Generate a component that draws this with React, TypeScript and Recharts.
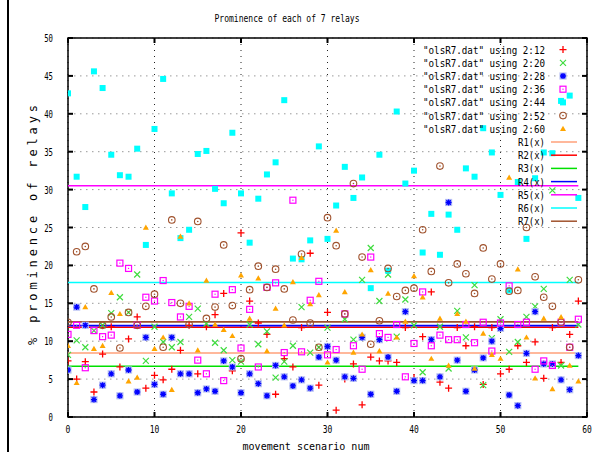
import React from 'react';
import {
  ScatterChart,
  Scatter,
  XAxis,
  YAxis,
  CartesianGrid,
  ReferenceLine,
  ReferenceArea,
  Legend,
} from 'recharts';

const W = 595;
const H = 452;
// left/bottom margins plus a 1px axis band put the plot frame at x 68..587, y 38..417
const MARGIN = { top: 38, right: 8, bottom: 34, left: 67 };
const PLOT_TOP = MARGIN.top;
const PLOT_RIGHT = W - MARGIN.right;

// movement scenario numbers (x)
const scenarioNum = [
  0, 1, 2, 3, 4, 5, 6, 7, 8, 9, 10, 11, 12, 13, 14, 15, 16, 17, 18, 19,
  20, 21, 22, 23, 24, 25, 26, 27, 28, 29, 30, 31, 32, 33, 34, 35, 36, 37, 38, 39,
  40, 41, 42, 43, 44, 45, 46, 47, 48, 49, 50, 51, 52, 53, 54, 55, 56, 57, 58, 59,
];

// % prominence per relay column of olsR7.dat
const col12 = [
  7.4, 5.0, 7.3, 3.3, 8.3, 11.9, 6.6, 10.3, 13.2, 3.8,
  5.5, 4.9, 6.3, 8.8, 12.1, 5.7, 11.9, 13.5, 16.3, 6.1,
  24.3, 15.3, 12.4, 10.9, 3.0, 7.7, 6.6, 11.8, 21.6, 4.2,
  13.8, 0.9, 5.0, 7.0, 1.6, 7.9, 7.4, 7.4, 7.2, 11.8,
  5.2, 10.6, 16.5, 4.6, 3.8, 11.8, 9.4, 11.9, 4.3, 11.8,
  5.7, 6.3, 9.4, 7.2, 9.9, 5.1, 11.8, 7.2, 10.9, 15.3,
];
const col20 = [
  8.2, 10.1, 9.2, 11.4, 12.1, 13.7, 15.8, 13.8, 18.8, 7.4,
  11.9, 9.9, 9.2, 9.9, 13.2, 14.3, 12.3, 9.8, 8.8, 7.5,
  7.3, 12.2, 9.6, 11.3, 5.2, 7.3, 9.4, 14.5, 8.5, 9.2,
  11.8, 7.5, 12.9, 10.2, 18.1, 22.3, 15.3, 18.8, 10.6, 15.5,
  12.1, 5.9, 10.2, 11.9, 6.4, 14.0, 10.5, 17.4, 4.2, 10.4,
  12.9, 8.6, 9.9, 13.2, 14.6, 16.9, 29.9, 6.8, 18.1, 12.2,
];
const col28 = [
  6.2, 14.5, 12.1, 2.3, 4.2, 5.7, 2.8, 6.2, 3.3, 10.5,
  4.3, 3.0, 10.5, 5.7, 5.7, 3.2, 3.7, 3.4, 7.4, 6.6,
  3.2, 5.7, 4.4, 2.8, 6.8, 5.3, 4.1, 4.9, 3.8, 7.9,
  9.3, 7.5, 5.3, 5.1, 10.5, 3.0, 10.2, 7.9, 3.4, 13.9,
  4.8, 4.8, 10.2, 5.3, 28.3, 7.5, 3.4, 6.2, 7.8, 10.0,
  11.7, 2.9, 1.5, 8.4, 13.9, 7.0, 7.0, 4.9, 3.6, 8.1,
];
const col36 = [
  10.9, 12.1, 6.5, 11.4, 10.6, 10.8, 20.3, 19.6, 12.1, 15.8,
  15.3, 18.0, 15.1, 13.2, 14.6, 7.5, 5.7, 16.2, 4.8, 16.8,
  9.1, 14.2, 6.6, 17.1, 17.7, 8.5, 28.6, 8.6, 15.4, 17.9,
  8.2, 8.9, 13.6, 9.4, 6.3, 21.1, 11.0, 10.5, 12.2, 5.3,
  9.7, 16.5, 9.4, 10.8, 10.2, 10.2, 12.2, 9.8, 12.5, 8.7,
  12.4, 17.3, 12.2, 12.5, 6.3, 7.4, 6.8, 12.5, 9.2, 12.9,
];
const col44 = [
  42.7, 31.7, 27.7, 45.6, 43.4, 34.6, 31.9, 31.7, 35.4, 22.7,
  38.0, 44.6, 29.5, 23.6, 24.7, 34.7, 35.1, 30.1, 28.2, 37.5,
  29.5, 23.0, 28.8, 32.0, 33.6, 41.8, 20.9, 20.8, 23.3, 35.7,
  23.5, 27.9, 33.0, 28.9, 31.6, 17.0, 34.6, 19.3, 40.3, 30.8,
  32.5, 21.7, 26.8, 21.4, 26.7, 24.7, 32.8, 31.7, 38.1, 34.9,
  29.3, 16.7, 31.0, 23.5, 31.5, 34.9, 34.8, 41.7, 42.4, 28.9,
];
const col52 = [
  12.5, 21.8, 22.5, 16.9, 12.1, 13.2, 9.1, 13.8, 12.1, 14.6,
  16.2, 9.2, 26.0, 15.0, 12.2, 25.8, 13.0, 14.5, 22.7, 14.7,
  7.7, 16.8, 19.9, 17.1, 19.5, 16.9, 12.8, 21.5, 12.4, 9.2,
  26.3, 22.6, 13.6, 30.8, 21.1, 9.6, 12.7, 19.6, 15.9, 16.7,
  17.0, 24.7, 19.2, 33.1, 17.7, 20.2, 18.9, 16.3, 22.3, 18.2,
  20.2, 16.6, 16.7, 25.0, 18.5, 15.8, 14.6, 12.5, 9.2, 18.1,
];
const col60 = [
  9.4, 4.5, 14.5, 9.0, 9.4, 16.4, 13.6, 4.7, 5.2, 25.0,
  9.0, 10.5, 3.6, 23.8, 15.0, 8.8, 18.0, 12.2, 11.5, 10.7,
  18.7, 13.0, 18.3, 8.7, 14.3, 12.1, 17.8, 21.0, 14.9, 16.1,
  7.2, 24.6, 16.5, 8.5, 10.9, 19.4, 8.7, 16.3, 10.5, 12.6,
  18.6, 15.8, 7.7, 13.0, 6.8, 13.6, 12.6, 6.4, 11.0, 8.2,
  7.7, 31.6, 19.5, 10.5, 5.1, 13.0, 3.7, 13.2, 6.8, 4.7,
];

// R1..R7 reference levels
const relayNames = ['R1(x)', 'R2(x)', 'R3(x)', 'R4(x)', 'R5(x)', 'R6(x)', 'R7(x)'];
const relayLevels = [8.44, 11.84, 6.7, 12.05, 30.5, 17.75, 12.55];
const relayColors = ['#ffa07a', '#ff0000', '#00e000', '#0000ff', '#ff00ff', '#00ffff', '#a0522d'];

const seriesLabels = [
  '"olsR7.dat" using 2:12',
  '"olsR7.dat" using 2:20',
  '"olsR7.dat" using 2:28',
  '"olsR7.dat" using 2:36',
  '"olsR7.dat" using 2:44',
  '"olsR7.dat" using 2:52',
  '"olsR7.dat" using 2:60',
];

const xTicks = [0, 10, 20, 30, 40, 50, 60];
const yTicks = [0, 5, 10, 15, 20, 25, 30, 35, 40, 45, 50];
const X_END = 59;

const FONT = '"DejaVu Sans Mono", "Liberation Mono", monospace';

const toPoints = (ys: number[]) => scenarioNum.map((x, i) => ({ x, y: ys[i] }));

type MarkProps = { cx?: number; cy?: number };

const PlusMark = ({ cx = 0, cy = 0 }: MarkProps) => (
  <path d={`M${cx - 3.5},${cy}h7M${cx},${cy - 3.5}v7`} stroke="#ff0000" strokeWidth={1.3} fill="none" />
);
const CrossMark = ({ cx = 0, cy = 0 }: MarkProps) => (
  <path
    d={`M${cx - 3},${cy - 3}l6,6M${cx - 3},${cy + 3}l6,-6`}
    stroke="#3fdc3f"
    strokeWidth={1.2}
    fill="none"
  />
);
const StarMark = ({ cx = 0, cy = 0 }: MarkProps) => (
  <g>
    <rect x={cx - 3.6} y={cy - 3.6} width={7.2} height={7.2} fill="#b8c0f4" />
    <path
      d={`M${cx - 3},${cy}h6M${cx},${cy - 3}v6M${cx - 2.2},${cy - 2.2}l4.4,4.4M${cx - 2.2},${cy + 2.2}l4.4,-4.4`}
      stroke="#0000ff"
      strokeWidth={1.3}
      fill="none"
    />
  </g>
);
const BoxMark = ({ cx = 0, cy = 0 }: MarkProps) => (
  <g>
    <rect x={cx - 3} y={cy - 3} width={6} height={6} fill="none" stroke="#ff00ff" strokeWidth={1.2} />
    <rect x={cx - 0.6} y={cy - 0.6} width={1.2} height={1.2} fill="#ff00ff" />
  </g>
);
const FilledBoxMark = ({ cx = 0, cy = 0 }: MarkProps) => (
  <rect x={cx - 3} y={cy - 3} width={6} height={6} fill="#00ffff" />
);
const RingMark = ({ cx = 0, cy = 0 }: MarkProps) => (
  <g>
    <circle cx={cx} cy={cy} r={3.3} fill="none" stroke="#a0522d" strokeWidth={1.1} />
    <circle cx={cx} cy={cy} r={0.8} fill="#a0522d" />
  </g>
);
const TriMark = ({ cx = 0, cy = 0 }: MarkProps) => (
  <path d={`M${cx},${cy - 3}L${cx + 3},${cy + 2.2}L${cx - 3},${cy + 2.2}Z`} fill="#ffa500" />
);

const seriesData = [col12, col20, col28, col36, col44, col52, col60];
const seriesMarks = [PlusMark, CrossMark, StarMark, BoxMark, FilledBoxMark, RingMark, TriMark];

// bottom axis: labels below, ticks pointing inwards on bottom and top frame
const XTick = (props: any) => {
  const { x, y, payload } = props;
  const label = String(payload.value);
  return (
    <g>
      <line x1={x} y1={y} x2={x} y2={y - 5} stroke="#000" strokeWidth={2} />
      <line x1={x} y1={PLOT_TOP} x2={x} y2={PLOT_TOP + 5} stroke="#000" strokeWidth={2} />
      <text
        x={x}
        y={y + 16}
        textAnchor="middle"
        fontFamily={FONT}
        fontSize={11}
        fill="#000"
        textLength={label.length * 4.8}
        lengthAdjust="spacingAndGlyphs"
      >
        {label}
      </text>
    </g>
  );
};

// left axis: labels at left, ticks pointing inwards on left and right frame
const YTick = (props: any) => {
  const { x, y, payload } = props;
  const label = String(payload.value);
  return (
    <g>
      <line x1={x} y1={y} x2={x + 5} y2={y} stroke="#000" strokeWidth={2} />
      <line x1={PLOT_RIGHT - 5} y1={y} x2={PLOT_RIGHT} y2={y} stroke="#000" strokeWidth={2} />
      <text
        x={x - 15}
        y={y + 4}
        textAnchor="end"
        fontFamily={FONT}
        fontSize={11}
        fill="#000"
        textLength={label.length * 4.4}
        lengthAdjust="spacingAndGlyphs"
      >
        {label}
      </text>
    </g>
  );
};

const ROW = 13.2;
const KEY_W = 190;
const KEY_H = 14 * ROW + 4;

const renderKey = () => (
  <svg width={KEY_W} height={KEY_H} style={{ display: 'block', overflow: 'visible' }}>
    {seriesLabels.map((label, i) => {
      const cy = ROW / 2 + i * ROW;
      const Mark = seriesMarks[i];
      return (
        <g key={label}>
          <text
            x={145}
            y={cy + 4}
            textAnchor="end"
            fontFamily={FONT}
            fontSize={10.5}
            fill="#000"
            textLength={122}
            lengthAdjust="spacingAndGlyphs"
          >
            {label}
          </text>
          <Mark cx={163} cy={cy} />
        </g>
      );
    })}
    {relayNames.map((name, j) => {
      const cy = ROW / 2 + (j + 7) * ROW;
      return (
        <g key={name}>
          <text
            x={145}
            y={cy + 4}
            textAnchor="end"
            fontFamily={FONT}
            fontSize={10.5}
            fill="#000"
            textLength={27}
            lengthAdjust="spacingAndGlyphs"
          >
            {name}
          </text>
          <line x1={151} y1={cy} x2={177} y2={cy} stroke={relayColors[j]} strokeWidth={1.5} />
        </g>
      );
    })}
  </svg>
);

export default function App() {
  return (
    <div
      style={{
        position: 'absolute',
        left: 0,
        top: 0,
        width: W,
        height: H,
        background: '#fff',
        overflow: 'hidden',
      }}
    >
      <ScatterChart width={W} height={H} margin={MARGIN}>
        <CartesianGrid horizontal={false} stroke="#222" strokeDasharray="1 5" />
        <CartesianGrid vertical={false} stroke="#999" strokeDasharray="1.5 4.5" />
        <XAxis
          type="number"
          dataKey="x"
          domain={[0, 60]}
          ticks={xTicks}
          height={1}
          axisLine={false}
          tickLine={false}
          tickSize={0}
          tickMargin={0}
          tick={XTick}
          interval={0}
          allowDataOverflow
        />
        <YAxis
          type="number"
          dataKey="y"
          domain={[0, 50]}
          ticks={yTicks}
          width={1}
          axisLine={false}
          tickLine={false}
          tickSize={0}
          tickMargin={0}
          tick={YTick}
          interval={0}
          allowDataOverflow
        />
        {seriesData.map((ys, i) => (
          <Scatter
            key={seriesLabels[i]}
            name={seriesLabels[i]}
            data={toPoints(ys)}
            shape={seriesMarks[i]}
            isAnimationActive={false}
          />
        ))}
        {relayLevels.map((v, j) => (
          <ReferenceLine
            key={relayNames[j]}
            segment={[
              { x: 0, y: v },
              { x: X_END, y: v },
            ]}
            stroke={relayColors[j]}
            strokeWidth={1.6}
          />
        ))}
        <ReferenceArea x1={0} x2={60} y1={0} y2={50} fill="none" stroke="#000" strokeWidth={1.5} />
        <Legend
          layout="vertical"
          align="center"
          verticalAlign="middle"
          content={renderKey}
          wrapperStyle={{ left: 400, top: 43, width: KEY_W, height: KEY_H }}
        />
      </ScatterChart>
      <svg
        width={W}
        height={H}
        style={{ position: 'absolute', left: 0, top: 0, pointerEvents: 'none' }}
      >
        <rect x={7} y={0} width={2} height={H} fill="#000" />
        <text
          x={287}
          y={22}
          textAnchor="middle"
          fontFamily={FONT}
          fontSize={11}
          fill="#000"
          textLength={145}
          lengthAdjust="spacingAndGlyphs"
        >
          Prominence of each of 7 relays
        </text>
        <text
          x={0}
          y={0}
          transform="translate(37 225) rotate(-90)"
          textAnchor="middle"
          fontFamily={FONT}
          fontSize={12}
          fill="#000"
          textLength={240}
          lengthAdjust="spacing"
        >
          % prominence of relays
        </text>
        <text
          x={306}
          y={450}
          textAnchor="middle"
          fontFamily={FONT}
          fontSize={11}
          fill="#000"
          textLength={127}
          lengthAdjust="spacingAndGlyphs"
        >
          movement scenario num
        </text>
      </svg>
    </div>
  );
}
